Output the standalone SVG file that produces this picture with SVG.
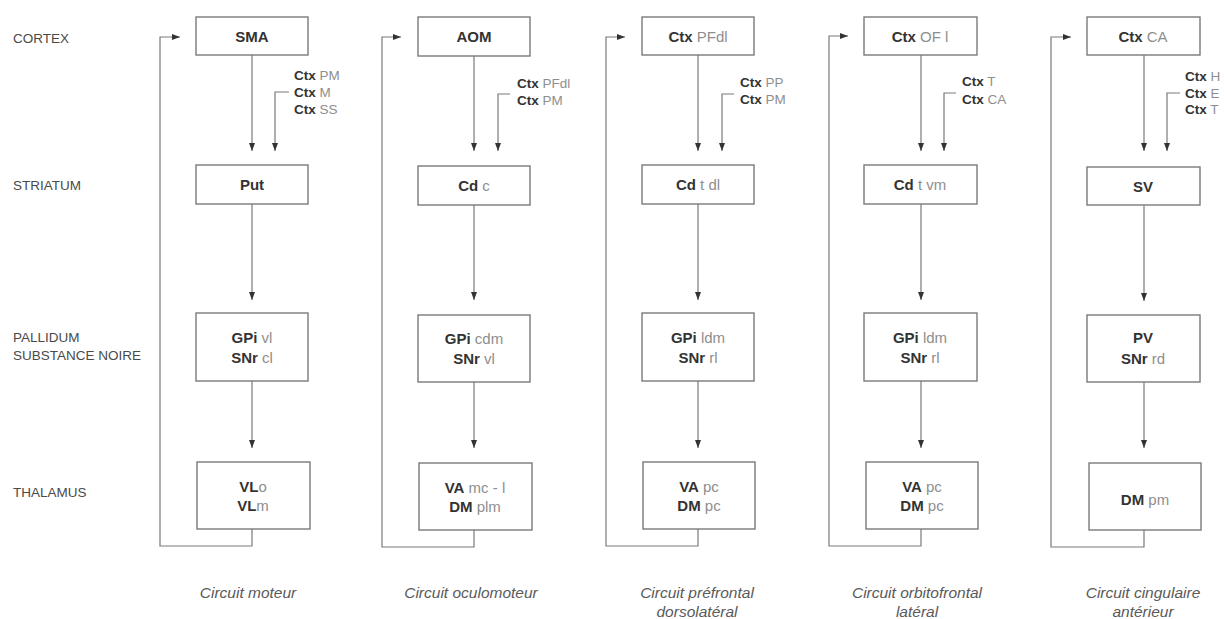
<svg xmlns="http://www.w3.org/2000/svg" width="1224" height="619" viewBox="0 0 1224 619">
<style>
text{font-family:"Liberation Sans",Arial,sans-serif}
.lvl{font-size:13.5px;fill:#4a4a4a}
.box{fill:#fff;stroke:#7a7a7a;stroke-width:1.4}
.bt{font-size:15px;fill:#333;text-anchor:middle}
.bt .b,.ct .b{font-weight:bold;fill:#333}
.bt .l,.ct .l{fill:#8e8e8e;font-weight:normal}
.ct{font-size:13.5px}
.cap{font-size:15.5px;font-style:italic;fill:#5a5a5a;text-anchor:middle}
.ln{fill:none;stroke:#7a7a7a;stroke-width:1.2}
.ar{marker-end:url(#ah)}
</style>
<defs>
<marker id="ah" markerUnits="userSpaceOnUse" markerWidth="8" markerHeight="8" viewBox="0 0 8 8" refX="8" refY="4" orient="auto">
<path d="M0,1 L8,4 L0,7 Z" fill="#333"/>
</marker>
</defs>
<g id="levels">
<text class="lvl" x="13" y="43">CORTEX</text>
<text class="lvl" x="13" y="190">STRIATUM</text>
<text class="lvl" x="13" y="342">PALLIDUM</text>
<text class="lvl" x="13" y="360">SUBSTANCE NOIRE</text>
<text class="lvl" x="13" y="497">THALAMUS</text>
</g>
<g id="connectors">
<!-- col1 cx=252 -->
<path class="ln ar" d="M252,55 V151"/>
<path class="ln ar" d="M289,92 H275 V151"/>
<path class="ln ar" d="M252,204 V300"/>
<path class="ln ar" d="M252,381 V448"/>
<path class="ln ar" d="M252,529 V546 H160 V37 H180"/>
<!-- col2 cx=474 -->
<path class="ln ar" d="M474,56 V151"/>
<path class="ln ar" d="M510,94 H498 V151"/>
<path class="ln ar" d="M474,205 V300"/>
<path class="ln ar" d="M474,382 V448"/>
<path class="ln ar" d="M474,530 V547 H382 V37 H401"/>
<!-- col3 cx=698 -->
<path class="ln ar" d="M698,55 V151"/>
<path class="ln ar" d="M734,94 H722 V151"/>
<path class="ln ar" d="M698,204 V300"/>
<path class="ln ar" d="M698,381 V448"/>
<path class="ln ar" d="M698,529 V546 H606 V37 H625"/>
<!-- col4 cx=921 -->
<path class="ln ar" d="M921,55 V151"/>
<path class="ln ar" d="M956,93 H944 V151"/>
<path class="ln ar" d="M921,204 V300"/>
<path class="ln ar" d="M921,381 V448"/>
<path class="ln ar" d="M921,529 V546 H829 V36 H848"/>
<!-- col5 cx=1144 -->
<path class="ln ar" d="M1144,55 V151"/>
<path class="ln ar" d="M1180,93 H1167 V151"/>
<path class="ln ar" d="M1144,205 V301"/>
<path class="ln ar" d="M1144,382 V448"/>
<path class="ln ar" d="M1144,530 V547 H1051 V37 H1071"/>
</g>
<g id="col1-cortex"><rect class="box" x="196" y="17" width="112" height="38"/><text class="bt" x="252" y="41.5"><tspan class="b">SMA</tspan></text></g>
<g id="col1-inputs"><text class="ct" x="294" y="80"><tspan class="b">Ctx</tspan><tspan class="l"> PM</tspan></text><text class="ct" x="294" y="97"><tspan class="b">Ctx</tspan><tspan class="l"> M</tspan></text><text class="ct" x="294" y="114"><tspan class="b">Ctx</tspan><tspan class="l"> SS</tspan></text></g>
<g id="col1-striatum"><rect class="box" x="196" y="165" width="112" height="39"/><text class="bt" x="252" y="190"><tspan class="b">Put</tspan></text></g>
<g id="col1-pallidum"><rect class="box" x="196" y="313" width="112" height="68"/><text class="bt" x="252" y="342.5"><tspan class="b">GPi</tspan><tspan class="l"> vl</tspan></text><text class="bt" x="252" y="362.5"><tspan class="b">SNr</tspan><tspan class="l"> cl</tspan></text></g>
<g id="col1-thalamus"><rect class="box" x="197" y="462" width="113" height="67"/><text class="bt" x="253" y="491.5"><tspan class="b">VL</tspan><tspan class="l">o</tspan></text><text class="bt" x="253" y="510.5"><tspan class="b">VL</tspan><tspan class="l">m</tspan></text></g>
<g id="col1-caption"><text class="cap" x="248" y="598">Circuit moteur</text></g>

<g id="col2-cortex"><rect class="box" x="418" y="17" width="112" height="39"/><text class="bt" x="474" y="41.5"><tspan class="b">AOM</tspan></text></g>
<g id="col2-inputs"><text class="ct" x="517" y="88"><tspan class="b">Ctx</tspan><tspan class="l"> PFdl</tspan></text><text class="ct" x="517" y="105"><tspan class="b">Ctx</tspan><tspan class="l"> PM</tspan></text></g>
<g id="col2-striatum"><rect class="box" x="418" y="166" width="112" height="39"/><text class="bt" x="474" y="191"><tspan class="b">Cd</tspan><tspan class="l"> c</tspan></text></g>
<g id="col2-pallidum"><rect class="box" x="418" y="315" width="112" height="67"/><text class="bt" x="474" y="343.5"><tspan class="b">GPi</tspan><tspan class="l"> cdm</tspan></text><text class="bt" x="474" y="363.5"><tspan class="b">SNr</tspan><tspan class="l"> vl</tspan></text></g>
<g id="col2-thalamus"><rect class="box" x="419" y="463" width="113" height="67"/><text class="bt" x="475" y="492.5"><tspan class="b">VA</tspan><tspan class="l"> mc - l</tspan></text><text class="bt" x="475" y="511.5"><tspan class="b">DM</tspan><tspan class="l"> plm</tspan></text></g>
<g id="col2-caption"><text class="cap" x="471" y="598">Circuit oculomoteur</text></g>

<g id="col3-cortex"><rect class="box" x="642" y="17" width="112" height="38"/><text class="bt" x="698" y="41.5"><tspan class="b">Ctx</tspan><tspan class="l"> PFdl</tspan></text></g>
<g id="col3-inputs"><text class="ct" x="740" y="87"><tspan class="b">Ctx</tspan><tspan class="l"> PP</tspan></text><text class="ct" x="740" y="104"><tspan class="b">Ctx</tspan><tspan class="l"> PM</tspan></text></g>
<g id="col3-striatum"><rect class="box" x="642" y="165" width="112" height="39"/><text class="bt" x="698" y="190"><tspan class="b">Cd</tspan><tspan class="l"> t dl</tspan></text></g>
<g id="col3-pallidum"><rect class="box" x="642" y="313" width="112" height="68"/><text class="bt" x="698" y="342.5"><tspan class="b">GPi</tspan><tspan class="l"> ldm</tspan></text><text class="bt" x="698" y="362.5"><tspan class="b">SNr</tspan><tspan class="l"> rl</tspan></text></g>
<g id="col3-thalamus"><rect class="box" x="643" y="462" width="112" height="67"/><text class="bt" x="699" y="491.5"><tspan class="b">VA</tspan><tspan class="l"> pc</tspan></text><text class="bt" x="699" y="510.5"><tspan class="b">DM</tspan><tspan class="l"> pc</tspan></text></g>
<g id="col3-caption"><text class="cap" x="697" y="598">Circuit préfrontal</text><text class="cap" x="697" y="617">dorsolatéral</text></g>

<g id="col4-cortex"><rect class="box" x="864" y="17" width="113" height="38"/><text class="bt" x="920" y="41.5"><tspan class="b">Ctx</tspan><tspan class="l"> OF l</tspan></text></g>
<g id="col4-inputs"><text class="ct" x="962" y="86"><tspan class="b">Ctx</tspan><tspan class="l"> T</tspan></text><text class="ct" x="962" y="104"><tspan class="b">Ctx</tspan><tspan class="l"> CA</tspan></text></g>
<g id="col4-striatum"><rect class="box" x="864" y="165" width="113" height="39"/><text class="bt" x="920" y="190"><tspan class="b">Cd</tspan><tspan class="l"> t vm</tspan></text></g>
<g id="col4-pallidum"><rect class="box" x="864" y="313" width="113" height="68"/><text class="bt" x="920" y="342.5"><tspan class="b">GPi</tspan><tspan class="l"> ldm</tspan></text><text class="bt" x="920" y="362.5"><tspan class="b">SNr</tspan><tspan class="l"> rl</tspan></text></g>
<g id="col4-thalamus"><rect class="box" x="866" y="462" width="112" height="67"/><text class="bt" x="922" y="491.5"><tspan class="b">VA</tspan><tspan class="l"> pc</tspan></text><text class="bt" x="922" y="510.5"><tspan class="b">DM</tspan><tspan class="l"> pc</tspan></text></g>
<g id="col4-caption"><text class="cap" x="917" y="598">Circuit orbitofrontal</text><text class="cap" x="917" y="617">latéral</text></g>

<g id="col5-cortex"><rect class="box" x="1087" y="17" width="113" height="38"/><text class="bt" x="1143" y="41.5"><tspan class="b">Ctx</tspan><tspan class="l"> CA</tspan></text></g>
<g id="col5-inputs"><text class="ct" x="1185" y="81"><tspan class="b">Ctx</tspan><tspan class="l"> H</tspan></text><text class="ct" x="1185" y="98"><tspan class="b">Ctx</tspan><tspan class="l"> E</tspan></text><text class="ct" x="1185" y="114"><tspan class="b">Ctx</tspan><tspan class="l"> T</tspan></text></g>
<g id="col5-striatum"><rect class="box" x="1087" y="167" width="113" height="38"/><text class="bt" x="1143" y="191.5"><tspan class="b">SV</tspan></text></g>
<g id="col5-pallidum"><rect class="box" x="1087" y="315" width="113" height="67"/><text class="bt" x="1143" y="342.5"><tspan class="b">PV</tspan></text><text class="bt" x="1143" y="363.5"><tspan class="b">SNr</tspan><tspan class="l"> rd</tspan></text></g>
<g id="col5-thalamus"><rect class="box" x="1089" y="463" width="112" height="67"/><text class="bt" x="1145" y="504.5"><tspan class="b">DM</tspan><tspan class="l"> pm</tspan></text></g>
<g id="col5-caption"><text class="cap" x="1143" y="598">Circuit cingulaire</text><text class="cap" x="1143" y="617">antérieur</text></g>
</svg>
